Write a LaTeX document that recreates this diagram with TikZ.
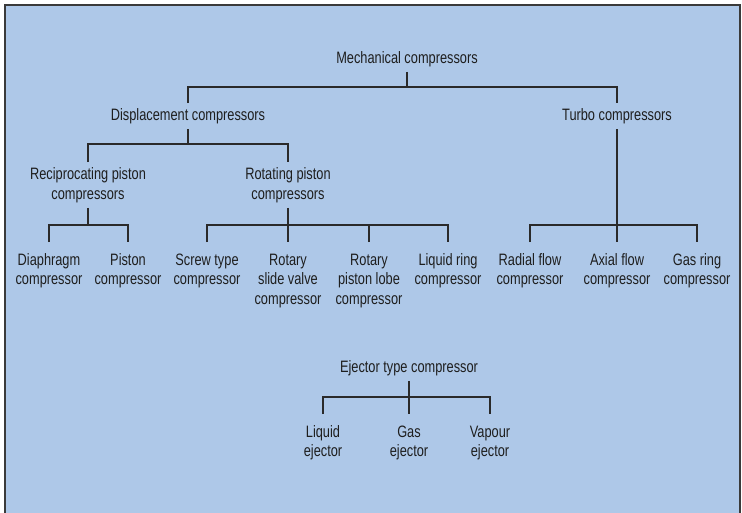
\documentclass[tikz,border=0pt]{standalone}
\usepackage{fontspec}
\setmainfont{Liberation Sans}[FakeStretch=0.775]
\definecolor{bg}{HTML}{AEC8E8}
\definecolor{ln}{HTML}{2A2A2A}
\definecolor{txt}{HTML}{1E1E1E}
\definecolor{frame}{HTML}{3A3A3A}
\newcommand\hs{\rule{0pt}{12pt}}
\newcommand\ds{\rule[-2pt]{0pt}{2pt}}
\begin{document}
\begin{tikzpicture}[x=1pt,y=-1pt,
  lbl/.style={inner sep=0pt, outer xsep=0pt, outer ysep=5.5pt, align=center, text=txt,
              font=\fontsize{16.5}{19.5}\selectfont},
  leaf/.style={lbl, outer ysep=11pt},
  conn/.style={draw=ln, line width=1.3pt},
  frameline/.style={draw=frame, line width=2pt}]
\useasboundingbox (0,0) rectangle (742,512);
\fill[bg] (5,5) rectangle (740,520);
\draw[frameline] (5,520) -- (5,5) -- (740,5) -- (740,520);

% nodes
\node[lbl, anchor=base] (mech) at (407,63) {\hs Mechanical compressors\ds};
\node[lbl, anchor=north] (disp) at (188,103) {\hs Displacement compressors\ds};
\node[lbl, anchor=north] (turbo) at (617,103) {\hs Turbo compressors\ds};
\node[lbl, anchor=north] (recip) at (88,162) {\hs Reciprocating piston\\compressors\ds};
\node[lbl, anchor=north] (rot) at (288,162) {\hs Rotating piston\\compressors\ds};

\node[leaf, anchor=north] (diaph) at (49,242) {\hs Diaphragm\\compressor\ds};
\node[leaf, anchor=north] (piston) at (128,242) {\hs Piston\\compressor\ds};
\node[leaf, anchor=north] (screw) at (207,242) {\hs Screw type\\compressor\ds};
\node[leaf, anchor=north] (slide) at (288,242) {\hs Rotary\\slide valve\\compressor\ds};
\node[leaf, anchor=north] (lobe) at (369,242) {\hs Rotary\\piston lobe\\compressor\ds};
\node[leaf, anchor=north] (lring) at (448,242) {\hs Liquid ring\\compressor\ds};
\node[leaf, anchor=north] (radial) at (530,242) {\hs Radial flow\\compressor\ds};
\node[leaf, anchor=north] (axial) at (617,242) {\hs Axial flow\\compressor\ds};
\node[leaf, anchor=north] (gring) at (697,242) {\hs Gas ring\\compressor\ds};

\node[lbl, anchor=base] (eject) at (409,372) {\hs Ejector type compressor\ds};
\node[leaf, anchor=north] (liqej) at (323,414) {\hs Liquid\\ejector\ds};
\node[leaf, anchor=north] (gasej) at (409,414) {\hs Gas\\ejector\ds};
\node[leaf, anchor=north] (vapej) at (490,414) {\hs Vapour\\ejector\ds};

% bus coordinates
\coordinate (bm) at (0,87);
\coordinate (bd) at (0,144);
\coordinate (bl) at (0,225);
\coordinate (be) at (0,397);

% connectors
\draw[conn] (mech.south) -- (mech.south |- bm);
\draw[conn] (disp.north) -- (disp.north |- bm) -- (turbo.north |- bm) -- (turbo.north);

\draw[conn] (disp.south) -- (disp.south |- bd);
\draw[conn] (recip.north) -- (recip.north |- bd) -- (rot.north |- bd) -- (rot.north);

\draw[conn] (recip.south) -- (recip.south |- bl);
\draw[conn] (diaph.north) -- (diaph.north |- bl) -- (piston.north |- bl) -- (piston.north);

\draw[conn] (rot.south) -- (slide.north);
\draw[conn] (screw.north) -- (screw.north |- bl) -- (lring.north |- bl) -- (lring.north);
\draw[conn] (lobe.north) -- (lobe.north |- bl);

\draw[conn] (turbo.south) -- (axial.north);
\draw[conn] (radial.north) -- (radial.north |- bl) -- (gring.north |- bl) -- (gring.north);

\draw[conn] (eject.south) -- (gasej.north);
\draw[conn] (liqej.north) -- (liqej.north |- be) -- (vapej.north |- be) -- (vapej.north);
\end{tikzpicture}
\end{document}
